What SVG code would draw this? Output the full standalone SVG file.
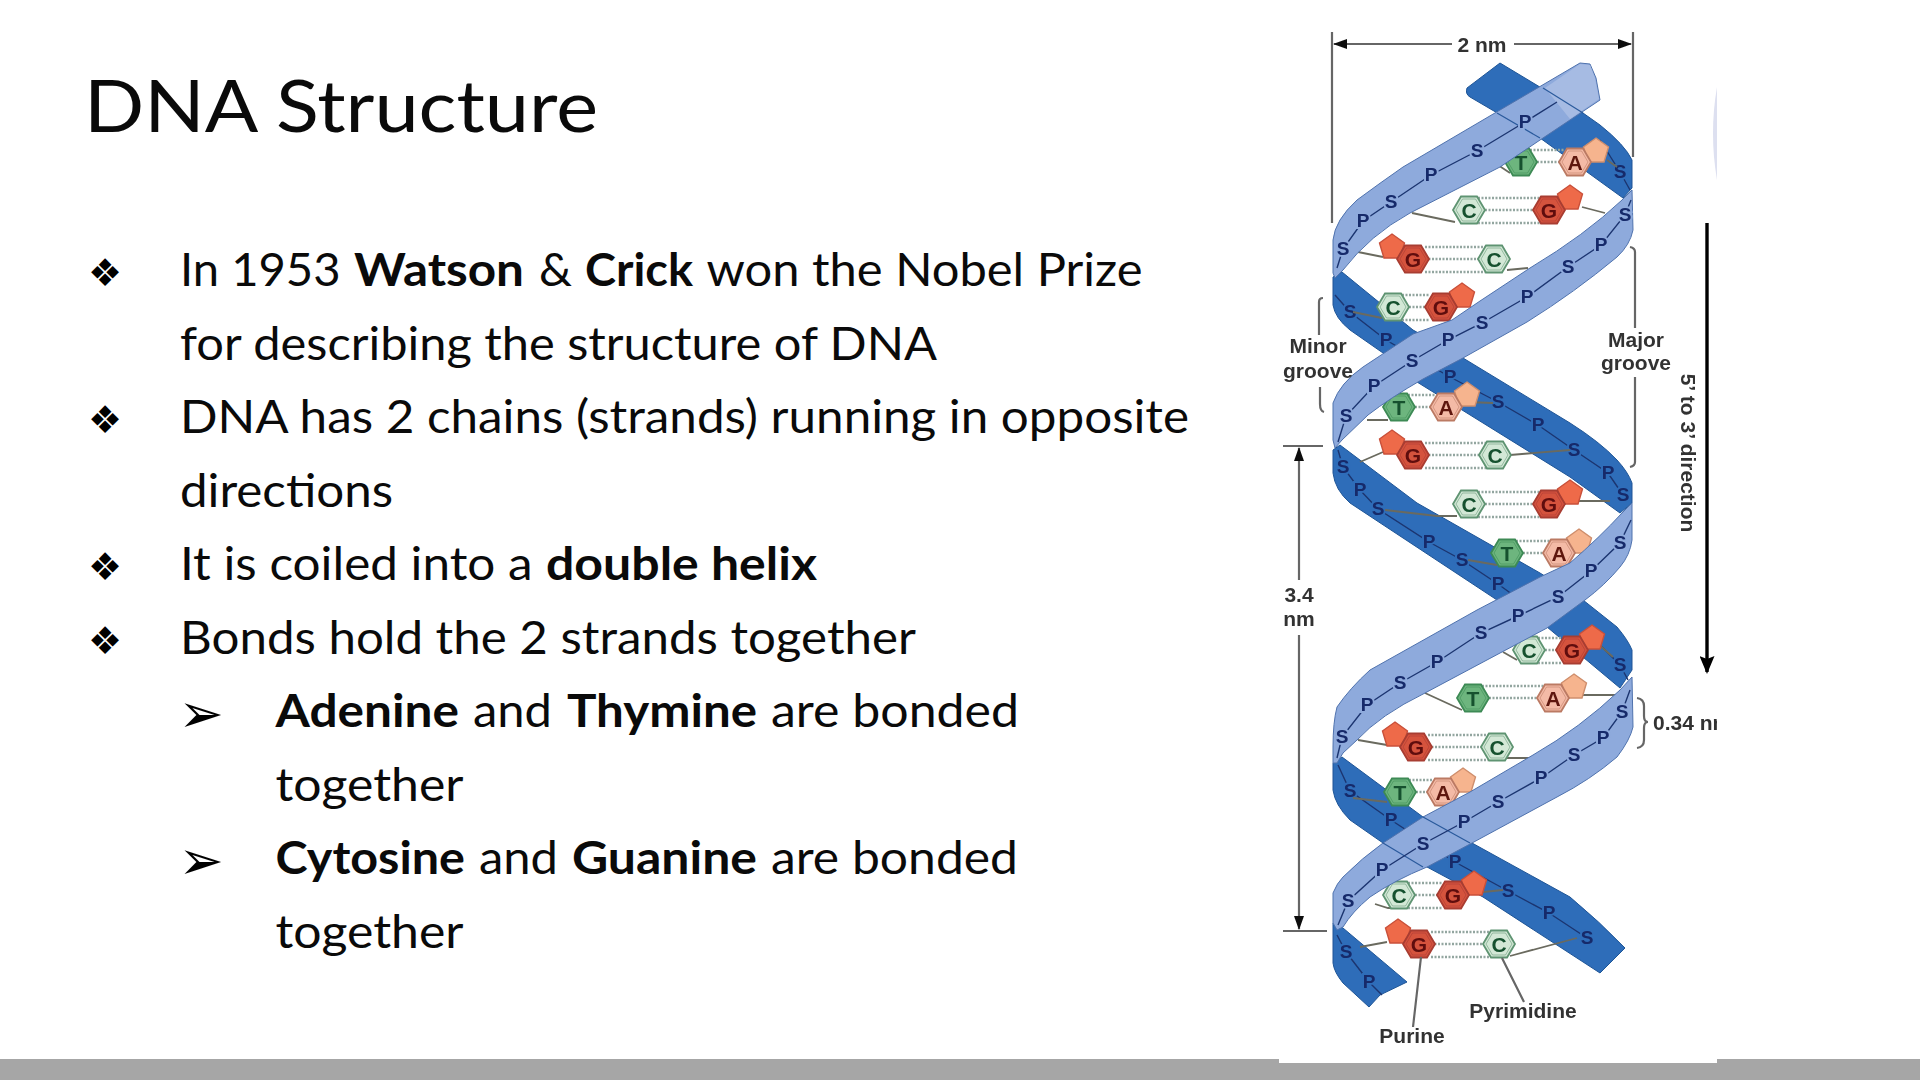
<svg xmlns="http://www.w3.org/2000/svg" width="1920" height="1080" viewBox="0 0 1920 1080">
<style>
.t{font-family:Lato,"Liberation Sans",sans-serif;font-size:45.5px;fill:#0a0a0a}
.t tspan.b{font-weight:700}
.h1{font-family:Lato,"Liberation Sans",sans-serif;font-size:72px;fill:#0a0a0a}
.bu{font-family:"DejaVu Sans",sans-serif;fill:#000;text-anchor:middle}
.l{font-family:"Liberation Sans",Arial,sans-serif;font-weight:700;font-size:21px;fill:#333;text-anchor:middle}
.dk{fill:#2f6db9;stroke:#1f5596;stroke-width:1}
.lt{fill:#8eaadc;stroke:#4f72ad;stroke-width:1}
.lt2{fill:#a6bbe3;stroke:none}
.xl{fill:none;stroke:#2a5a9c;stroke-width:1.2}
.bb{fill:none;stroke:#1c3570;stroke-width:1.4}
.sl,.sd{font-family:"Liberation Sans",Arial,sans-serif;font-weight:700;font-size:19px;fill:#16296a;text-anchor:middle;paint-order:stroke;stroke-width:4px}
.sl{stroke:#8eaadc}.sd{stroke:#2f6db9}
.cn{fill:none;stroke:#6a6a5e;stroke-width:1.8}
.hb{stroke:#93a6a0;stroke-width:2.4;stroke-dasharray:2 1.5}
.dim{fill:none;stroke:#666;stroke-width:2.2}
.T{fill:#6db57e;stroke:#3d8a55;stroke-width:1.8}
.C{fill:#d3e8d6;stroke:#5f9472;stroke-width:1.8}
.G{fill:#d5523e;stroke:#a83c30;stroke-width:1.8}
.A{fill:#f4baa6;stroke:#bb7a64;stroke-width:1.8}
.GP{fill:#ee6b48;stroke:#c9503a;stroke-width:1.4}
.AP{fill:#f6b48e;stroke:#cf8e6c;stroke-width:1.4}
.bl{font-family:"Liberation Sans",Arial,sans-serif;font-weight:700;font-size:21px;text-anchor:middle}
.bT,.bC{fill:#15512f}.bG{fill:#5e0d0d}.bA{fill:#5e1810}
</style>
<defs>
<g id="hx"><polygon points="-16,0 -8,-13.5 8,-13.5 16,0 8,13.5 -8,13.5"/><polygon points="-13,0 -6.5,-11 6.5,-11 13,0 6.5,11 -6.5,11" fill="none" stroke-width="1" stroke-opacity="0.55"/></g>
<polygon id="pn" points="0,-13 12.5,-4 8,11 -8,11 -12.5,-4"/>
<marker id="ah" viewBox="0 0 14 10" refX="13" refY="5" markerWidth="14" markerHeight="10" markerUnits="userSpaceOnUse" orient="auto"><path d="M0,0L14,5L0,10Z" fill="#111"/></marker>
<marker id="ab" viewBox="0 0 18 15" refX="16" refY="7.5" markerWidth="18" markerHeight="15" markerUnits="userSpaceOnUse" orient="auto"><path d="M0,0L3,7.5L0,15L18,7.5Z" fill="#000"/></marker>
<filter id="soft" x="-2%" y="-2%" width="104%" height="104%"><feGaussianBlur stdDeviation="0.55"/></filter>
<clipPath id="pic"><rect x="1279" y="0" width="438" height="1063"/></clipPath>
</defs>
<rect id="background" width="1920" height="1080" fill="#fff"/>
<rect id="footer-bar" x="0" y="1059" width="1920" height="21" fill="#a6a6a6"/>
<rect id="picture-area" x="1279" y="0" width="438" height="1063" fill="#fff"/>
<path id="edge-sliver" d="M1717,87Q1709,133 1717,180Z" fill="#dde0f0"/>

<g id="slide-text">
<text id="title" class="h1" x="84" y="132" textLength="514" lengthAdjust="spacingAndGlyphs">DNA Structure</text>
<g id="bullets">
<text class="bu" font-size="38" x="105" y="286">❖</text>
<text class="bu" font-size="38" x="105" y="433">❖</text>
<text class="bu" font-size="38" x="105" y="580">❖</text>
<text class="bu" font-size="38" x="105" y="653.5">❖</text>
<text class="bu" font-size="54" x="201" y="731.5">➢</text>
<text class="bu" font-size="54" x="201" y="878.5">➢</text>
</g>
<text class="t" y="286"><tspan x="180" textLength="160.5" lengthAdjust="spacingAndGlyphs">In 1953</tspan> <tspan class="b" x="354" textLength="170" lengthAdjust="spacingAndGlyphs">Watson</tspan> <tspan x="539" textLength="33" lengthAdjust="spacingAndGlyphs">&amp;</tspan> <tspan class="b" x="585" textLength="108" lengthAdjust="spacingAndGlyphs">Crick</tspan> <tspan x="706.5" textLength="436" lengthAdjust="spacingAndGlyphs">won the Nobel Prize</tspan></text>
<text class="t" x="180" y="359.5" textLength="757" lengthAdjust="spacingAndGlyphs">for describing the structure of DNA</text>
<text class="t" x="180" y="433" textLength="1009" lengthAdjust="spacingAndGlyphs">DNA has 2 chains (strands) running in opposite</text>
<text class="t" x="180" y="506.5" textLength="213" lengthAdjust="spacingAndGlyphs">directions</text>
<text class="t" y="580"><tspan x="180" textLength="352.5" lengthAdjust="spacingAndGlyphs">It is coiled into a</tspan> <tspan class="b" x="546" textLength="271" lengthAdjust="spacingAndGlyphs">double helix</tspan></text>
<text class="t" x="180" y="653.5" textLength="736" lengthAdjust="spacingAndGlyphs">Bonds hold the 2 strands together</text>
<text class="t" y="727"><tspan class="b" x="275.5" textLength="183.5" lengthAdjust="spacingAndGlyphs">Adenine</tspan> <tspan x="473" textLength="79" lengthAdjust="spacingAndGlyphs">and</tspan> <tspan class="b" x="567" textLength="190" lengthAdjust="spacingAndGlyphs">Thymine</tspan> <tspan x="771" textLength="248" lengthAdjust="spacingAndGlyphs">are bonded</tspan></text>
<text class="t" x="275.5" y="800.5" textLength="188" lengthAdjust="spacingAndGlyphs">together</text>
<text class="t" y="874"><tspan class="b" x="275.5" textLength="189.5" lengthAdjust="spacingAndGlyphs">Cytosine</tspan> <tspan x="479" textLength="79" lengthAdjust="spacingAndGlyphs">and</tspan> <tspan class="b" x="572" textLength="185" lengthAdjust="spacingAndGlyphs">Guanine</tspan> <tspan x="771" textLength="247" lengthAdjust="spacingAndGlyphs">are bonded</tspan></text>
<text class="t" x="275.5" y="947.5" textLength="188" lengthAdjust="spacingAndGlyphs">together</text>
</g>

<g id="helix" filter="url(#soft)">
<g id="back-strands">
<path class="dk" d="M1500,63L1467,88Q1465,94 1470,97L1540,138L1623,198L1632,188L1632,160Q1625,145 1600,125L1583,113Z"/>
<path class="dk" d="M1342,272L1413,330L1463,358L1570,423Q1600,442 1617,460Q1628,472 1632,483L1632,503L1620,513L1570,477L1483,423L1417,382L1383,353L1350,330Q1335,318 1333,305L1333,277Z"/>
<path class="dk" d="M1340,445L1417,503L1540,573L1583,600L1617,627Q1628,640 1632,650L1632,670L1620,688L1547,627L1497,600L1350,503Q1335,490 1333,473L1333,450Z"/>
<path class="dk" d="M1342,757L1423,817L1472,843L1570,897Q1600,922 1625,948L1600,973L1483,897L1427,867L1383,843L1350,820Q1335,805 1333,790L1333,763Z"/>
<path class="dk" d="M1333,923L1343,928Q1375,955 1407,982L1380,995L1369,1007L1343,983Q1334,972 1333,963Z"/>
</g>
<g id="back-backbones">
<path class="bb" d="M1600,140L1620,172L1630,190"/>
<path class="bb" d="M1335,295L1350,312L1386,340L1450,377L1498,402L1538,425L1574,450L1608,473L1623,495"/>
<path class="bb" d="M1338,450L1343,467L1360,490L1378,509L1429,542L1462,560L1498,584L1520,600"/>
<path class="bb" d="M1600,645L1620,665L1628,680"/>
<path class="bb" d="M1338,765L1350,791L1391,820L1455,862L1508,891L1549,913L1587,938"/>
<path class="bb" d="M1337,935L1346,952L1369,982L1382,995"/>
<g class="dk-letters">
<text class="sd" x="1620" y="178">S</text><text class="sd" x="1350" y="318">S</text><text class="sd" x="1386" y="346">P</text><text class="sd" x="1450" y="383">P</text><text class="sd" x="1498" y="408">S</text><text class="sd" x="1538" y="431">P</text><text class="sd" x="1574" y="456">S</text><text class="sd" x="1608" y="479">P</text><text class="sd" x="1623" y="501">S</text>
<text class="sd" x="1343" y="473">S</text><text class="sd" x="1360" y="496">P</text><text class="sd" x="1378" y="515">S</text><text class="sd" x="1429" y="548">P</text><text class="sd" x="1462" y="566">S</text><text class="sd" x="1498" y="590">P</text><text class="sd" x="1620" y="671">S</text>
<text class="sd" x="1350" y="797">S</text><text class="sd" x="1391" y="826">P</text><text class="sd" x="1455" y="868">P</text><text class="sd" x="1508" y="897">S</text><text class="sd" x="1549" y="919">P</text><text class="sd" x="1587" y="944">S</text>
<text class="sd" x="1346" y="958">S</text><text class="sd" x="1369" y="988">P</text>
</g>
</g>
<g id="sugar-base-links">
<path class="cn" d="M1498,165L1510,173M1607,160L1617,167M1412,213L1455,222M1582,207L1605,213M1358,252L1383,257M1507,270L1528,268M1353,312L1382,318M1367,420L1388,420M1467,402L1493,403M1360,462L1383,452M1510,455L1570,450M1385,510L1437,516L1457,516M1577,501L1610,501M1468,560L1497,565M1503,652L1517,660M1597,643L1613,657M1425,693L1462,710M1583,695L1618,695M1358,740L1387,745M1505,758L1533,758M1353,798L1387,802M1375,904L1388,908L1410,908M1483,892L1503,890M1360,947L1387,942M1510,956L1577,938"/>
</g>
<g id="hydrogen-bonds">
<path class="hb" d="M1530,150H1565M1530,162H1565M1478,198H1540M1478,210H1540M1478,223H1540M1425,247H1486M1425,259H1486M1425,272H1486M1402,295H1430M1402,307H1430M1402,320H1430M1408,395H1436M1408,407H1436M1425,443H1486M1425,455H1486M1425,468H1486M1478,492H1540M1478,504H1540M1478,517H1540M1516,541H1550M1516,553H1550M1538,638H1562M1538,650H1562M1538,663H1562M1482,686H1544M1482,698H1544M1428,735H1488M1428,747H1488M1428,760H1488M1409,780H1433M1409,792H1433M1408,883H1443M1408,895H1443M1408,908H1443M1431,932H1490M1431,944H1490M1431,957H1490"/>
</g>
<g id="base-pairs">
<g id="pair-1"><use href="#hx" class="T" x="1521" y="162"/><text class="bl bT" x="1521" y="169.5">T</text><use href="#pn" class="AP" x="1596" y="151"/><use href="#hx" class="A" x="1575" y="162"/><text class="bl bA" x="1575" y="169.5">A</text></g>
<g id="pair-2"><use href="#hx" class="C" x="1469" y="210"/><text class="bl bC" x="1469" y="217.5">C</text><use href="#pn" class="GP" x="1570" y="198"/><use href="#hx" class="G" x="1549" y="210"/><text class="bl bG" x="1549" y="217.5">G</text></g>
<g id="pair-3"><use href="#pn" class="GP" x="1392" y="247"/><use href="#hx" class="G" x="1413" y="259"/><text class="bl bG" x="1413" y="266.5">G</text><use href="#hx" class="C" x="1494" y="259"/><text class="bl bC" x="1494" y="266.5">C</text></g>
<g id="pair-4"><use href="#hx" class="C" x="1393" y="307"/><text class="bl bC" x="1393" y="314.5">C</text><use href="#pn" class="GP" x="1462" y="296"/><use href="#hx" class="G" x="1441" y="307"/><text class="bl bG" x="1441" y="314.5">G</text></g>
<g id="pair-5"><use href="#hx" class="T" x="1399" y="407"/><text class="bl bT" x="1399" y="414.5">T</text><use href="#pn" class="AP" x="1467" y="395"/><use href="#hx" class="A" x="1446" y="407"/><text class="bl bA" x="1446" y="414.5">A</text></g>
<g id="pair-6"><use href="#pn" class="GP" x="1392" y="443"/><use href="#hx" class="G" x="1413" y="455"/><text class="bl bG" x="1413" y="462.5">G</text><use href="#hx" class="C" x="1495" y="455"/><text class="bl bC" x="1495" y="462.5">C</text></g>
<g id="pair-7"><use href="#hx" class="C" x="1469" y="504"/><text class="bl bC" x="1469" y="511.5">C</text><use href="#pn" class="GP" x="1570" y="493"/><use href="#hx" class="G" x="1549" y="504"/><text class="bl bG" x="1549" y="511.5">G</text></g>
<g id="pair-8"><use href="#hx" class="T" x="1507" y="553"/><text class="bl bT" x="1507" y="560.5">T</text><use href="#pn" class="AP" x="1579" y="542"/><use href="#hx" class="A" x="1559" y="553"/><text class="bl bA" x="1559" y="560.5">A</text></g>
<g id="pair-9"><use href="#hx" class="C" x="1529" y="650"/><text class="bl bC" x="1529" y="657.5">C</text><use href="#pn" class="GP" x="1592" y="638"/><use href="#hx" class="G" x="1572" y="650"/><text class="bl bG" x="1572" y="657.5">G</text></g>
<g id="pair-10"><use href="#hx" class="T" x="1473" y="698"/><text class="bl bT" x="1473" y="705.5">T</text><use href="#pn" class="AP" x="1574" y="687"/><use href="#hx" class="A" x="1553" y="698"/><text class="bl bA" x="1553" y="705.5">A</text></g>
<g id="pair-11"><use href="#pn" class="GP" x="1395" y="735"/><use href="#hx" class="G" x="1416" y="747"/><text class="bl bG" x="1416" y="754.5">G</text><use href="#hx" class="C" x="1497" y="747"/><text class="bl bC" x="1497" y="754.5">C</text></g>
<g id="pair-12"><use href="#hx" class="T" x="1400" y="792"/><text class="bl bT" x="1400" y="799.5">T</text><use href="#pn" class="AP" x="1463" y="781"/><use href="#hx" class="A" x="1443" y="792"/><text class="bl bA" x="1443" y="799.5">A</text></g>
<g id="pair-13"><use href="#hx" class="C" x="1399" y="895"/><text class="bl bC" x="1399" y="902.5">C</text><use href="#pn" class="GP" x="1474" y="884"/><use href="#hx" class="G" x="1453" y="895"/><text class="bl bG" x="1453" y="902.5">G</text></g>
<g id="pair-14"><use href="#pn" class="GP" x="1398" y="932"/><use href="#hx" class="G" x="1419" y="944"/><text class="bl bG" x="1419" y="951.5">G</text><use href="#hx" class="C" x="1499" y="944"/><text class="bl bC" x="1499" y="951.5">C</text></g>
</g>
<g id="front-strands">
<path class="lt" d="M1580,63L1590,64L1596,78L1600,100L1543,138L1500,167L1410,213Q1370,235 1343,270L1335,278L1333,273L1333,240Q1335,220 1357,200Q1380,183 1403,167L1500,110Z"/>
<path class="lt2" d="M1580,64L1590,65L1595,78L1599,99L1570,119L1545,88Z"/>
<path class="lt" d="M1622,200L1632,190L1633,230Q1630,245 1617,257Q1575,292 1527,322L1463,358L1423,379Q1390,398 1368,415L1342,440L1335,448L1333,440L1333,403Q1340,383 1363,367L1413,334L1452,320L1480,301L1530,268Q1585,235 1622,200Z"/>
<path class="lt" d="M1622,513L1632,503L1632,540Q1630,555 1620,567Q1605,585 1585,600L1547,628L1425,693Q1380,715 1357,740L1343,753L1337,763L1333,763L1333,747Q1333,722 1337,707Q1350,688 1370,670L1477,610L1540,577L1570,563Q1600,537 1622,513Z"/>
<path class="lt" d="M1620,690L1632,677L1633,727Q1630,740 1617,757Q1590,780 1557,797L1472,843L1427,867Q1395,880 1370,897Q1352,912 1343,927L1337,930L1333,923L1333,893Q1337,883 1343,877Q1362,858 1383,843L1423,817L1470,792L1533,755Q1580,728 1620,690Z"/>
<path class="xl" d="M1543,88L1583,113M1497,113L1540,138M1383,843L1423,867M1423,817L1470,843"/>
</g>
<g id="front-backbones">
<path class="bb" d="M1337,268L1343,249L1363,221L1391,202L1431,175L1477,151L1525,122L1557,102"/>
<path class="bb" d="M1631,200L1625,215L1601,245L1568,267L1527,297L1482,323L1448,340L1412,361L1374,386L1346,416L1338,442"/>
<path class="bb" d="M1631,520L1620,543L1591,571L1558,597L1518,616L1481,633L1437,662L1400,683L1367,705L1342,737L1337,758"/>
<path class="bb" d="M1630,690L1622,712L1603,738L1574,755L1541,778L1498,802L1464,822L1423,844L1382,870L1348,901L1338,925"/>
<g class="lt-letters">
<text class="sl" x="1343" y="255">S</text><text class="sl" x="1363" y="227">P</text><text class="sl" x="1391" y="208">S</text><text class="sl" x="1431" y="181">P</text><text class="sl" x="1477" y="157">S</text><text class="sl" x="1525" y="128">P</text>
<text class="sl" x="1625" y="221">S</text><text class="sl" x="1601" y="251">P</text><text class="sl" x="1568" y="273">S</text><text class="sl" x="1527" y="303">P</text><text class="sl" x="1482" y="329">S</text><text class="sl" x="1448" y="346">P</text><text class="sl" x="1412" y="367">S</text><text class="sl" x="1374" y="392">P</text><text class="sl" x="1346" y="422">S</text>
<text class="sl" x="1620" y="549">S</text><text class="sl" x="1591" y="577">P</text><text class="sl" x="1558" y="603">S</text><text class="sl" x="1518" y="622">P</text><text class="sl" x="1481" y="639">S</text><text class="sl" x="1437" y="668">P</text><text class="sl" x="1400" y="689">S</text><text class="sl" x="1367" y="711">P</text><text class="sl" x="1342" y="743">S</text>
<text class="sl" x="1622" y="718">S</text><text class="sl" x="1603" y="744">P</text><text class="sl" x="1574" y="761">S</text><text class="sl" x="1541" y="784">P</text><text class="sl" x="1498" y="808">S</text><text class="sl" x="1464" y="828">P</text><text class="sl" x="1423" y="850">S</text><text class="sl" x="1382" y="876">P</text><text class="sl" x="1348" y="907">S</text>
</g>
</g>
<g id="dimensions">
<path class="dim" d="M1332,32V223M1633,32V157"/>
<path class="dim" d="M1452,44H1334" marker-end="url(#ah)"/>
<path class="dim" d="M1514,44H1631" marker-end="url(#ah)"/>
<path class="dim" d="M1283,446H1323M1283,931H1327"/>
<path class="dim" d="M1299,580V448" marker-end="url(#ah)"/>
<path class="dim" d="M1299,635V929" marker-end="url(#ah)"/>
<path class="dim" d="M1323,298Q1319,298 1319,302V335M1320,387V404Q1320,411 1324,412"/>
<path class="dim" d="M1630,247Q1635,248 1635,252V328M1635,377V462Q1635,466 1630,467"/>
<path d="M1707,223V672" fill="none" stroke="#000" stroke-width="3.4" marker-end="url(#ab)"/>
<path class="dim" d="M1637,698Q1644,699 1644,706V716Q1644,722 1648,722Q1644,722 1644,728V740Q1644,747 1637,748"/>
<path class="dim" d="M1421,957L1413,1027M1502,958L1524,1002"/>
</g>
<g id="labels">
<text class="l" x="1482" y="52">2 nm</text>
<text class="l" x="1318" y="353">Minor</text>
<text class="l" x="1318" y="378">groove</text>
<text class="l" x="1636" y="347">Major</text>
<text class="l" x="1636" y="370">groove</text>
<text class="l" x="1299" y="602">3.4</text>
<text class="l" x="1299" y="626">nm</text>
<text class="l" transform="translate(1681,453) rotate(90)" x="0" y="0">5’ to 3’ direction</text>
<text class="l" x="1653" y="730" style="text-anchor:start" clip-path="url(#pic)">0.34 nm</text>
<text class="l" x="1523" y="1018">Pyrimidine</text>
<text class="l" x="1412" y="1043">Purine</text>
</g>
</g>
</svg>
